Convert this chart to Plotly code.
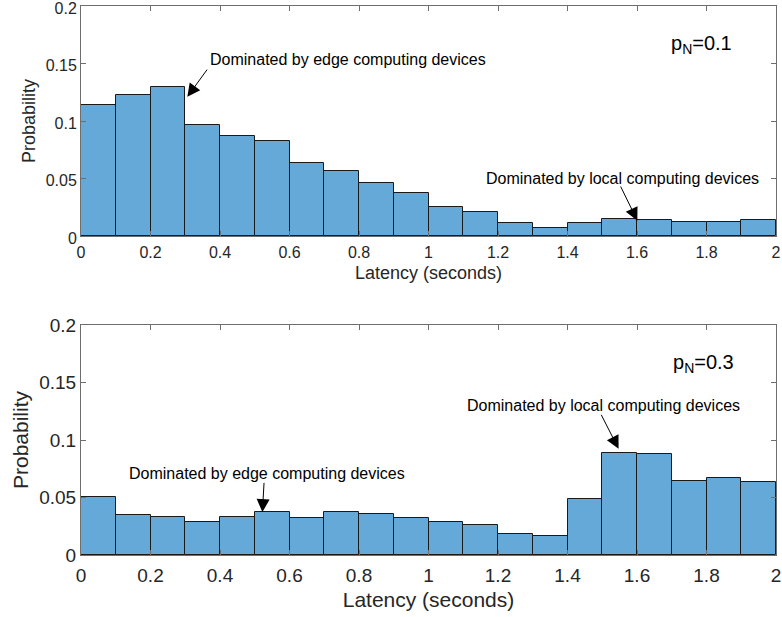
import plotly.graph_objects as go
from plotly.subplots import make_subplots

bin_edges = [round(i * 0.1, 1) for i in range(21)]
bin_centers = [round(i * 0.1 + 0.05, 2) for i in range(20)]
bin_width = 0.1

prob_pn01 = [0.1142, 0.1223, 0.1296, 0.0965, 0.0867, 0.0826, 0.0632, 0.0565, 0.0461, 0.0371,
             0.0255, 0.0212, 0.0110, 0.0067, 0.0110, 0.0150, 0.0136, 0.0119, 0.0119, 0.0136]
prob_pn03 = [0.0504, 0.0347, 0.0333, 0.0283, 0.0327, 0.0373, 0.0318, 0.0373, 0.0356, 0.0318,
             0.0287, 0.0263, 0.0182, 0.0162, 0.0489, 0.0891, 0.0877, 0.0645, 0.0669, 0.0631]

x_ticks = [0, 0.2, 0.4, 0.6, 0.8, 1, 1.2, 1.4, 1.6, 1.8, 2]
x_tick_labels = ["0", "0.2", "0.4", "0.6", "0.8", "1", "1.2", "1.4", "1.6", "1.8", "2"]
y_ticks = [0, 0.05, 0.1, 0.15, 0.2]
y_tick_labels = ["0", "0.05", "0.1", "0.15", "0.2"]

panel_labels = ["p<sub>N</sub>=0.1", "p<sub>N</sub>=0.3"]
ann_edge = "Dominated by edge computing devices"
ann_local = "Dominated by local computing devices"

W, H = 782, 617
mt, mb, ml, mr = 6, 62, 81, 6
ph = H - mt - mb
top_dom = [(ph - 230) / ph, 1.0]
bot_dom = [0.0, 230 / ph]

BAR = "#64a9d8"
TXT = "#262626"
AX = "#6e6e6e"
FONT = "Liberation Sans, Arial, Helvetica, sans-serif"

fig = make_subplots(rows=2, cols=1)
for row, vals in [(1, prob_pn01), (2, prob_pn03)]:
    fig.add_trace(go.Bar(x=bin_centers, y=vals, width=bin_width,
                         marker=dict(color=BAR, line=dict(color="#1a1a1a", width=1)),
                         showlegend=False), row=row, col=1)

common_x = dict(range=[0, 2], tickvals=x_ticks, ticktext=x_tick_labels, ticks="inside",
                ticklen=5, tickcolor=AX, showline=True, linecolor=AX, linewidth=1,
                mirror="ticks", showgrid=False, zeroline=False, automargin=False,
                ticklabeloverflow="allow")
common_y = dict(range=[0, 0.2], tickvals=y_ticks, ticktext=y_tick_labels, ticks="inside",
                ticklen=5, tickcolor=AX, showline=True, linecolor=AX, linewidth=1,
                mirror="ticks", showgrid=False, zeroline=False, automargin=False,
                ticklabeloverflow="allow")

fig.update_layout(
    width=W, height=H, margin=dict(l=ml, r=mr, t=mt, b=mb, autoexpand=False),
    paper_bgcolor="white", plot_bgcolor="white", bargap=0,
    font=dict(family=FONT, color=TXT),
    xaxis=dict(domain=[0, 1], anchor="y", **common_x, ticklabelstandoff=2,
               tickfont=dict(size=16, color=TXT),
               title=dict(text="Latency (seconds)", font=dict(size=18, color=TXT), standoff=6)),
    yaxis=dict(domain=top_dom, anchor="x", **common_y, ticklabelshift=2,
               tickfont=dict(size=16, color=TXT),
               title=dict(text="Probability", font=dict(size=18, color=TXT), standoff=5)),
    xaxis2=dict(domain=[0, 1], anchor="y2", **common_x, ticklabelstandoff=3,
                tickfont=dict(size=19, color=TXT),
                title=dict(text="Latency (seconds)", font=dict(size=21, color=TXT), standoff=7)),
    yaxis2=dict(domain=bot_dom, anchor="x2", **common_y,
                tickfont=dict(size=19, color=TXT),
                title=dict(text="Probability", font=dict(size=21, color=TXT), standoff=4)),
)

def text_ann(xref, yref, x, y, text, size, xanchor="left"):
    fig.add_annotation(xref=xref, yref=yref, x=x, y=y, text=text, showarrow=False,
                       xanchor=xanchor, yanchor="middle", font=dict(size=size, color="black", family=FONT))

def arrow_ann(xref, yref, x, y, ax, ay):
    fig.add_annotation(xref=xref, yref=yref, axref=xref, ayref=yref, x=x, y=y, ax=ax, ay=ay,
                       text="", showarrow=True, arrowhead=2, arrowsize=2.6, arrowwidth=1,
                       arrowcolor="black")

# top panel
text_ann("x", "y", 0.366, 0.1539, ann_edge, 16)
arrow_ann("x", "y", 0.306, 0.121, 0.366, 0.146)
text_ann("x", "y", 1.160, 0.0504, ann_local, 16)
arrow_ann("x", "y", 1.601, 0.0133, 1.551, 0.0443)
text_ann("x", "y", 1.692, 0.1668, panel_labels[0], 20)

# bottom panel
text_ann("x2", "y2", 0.133, 0.0710, ann_edge, 16)
arrow_ann("x2", "y2", 0.522, 0.0373, 0.527, 0.0640)
text_ann("x2", "y2", 1.105, 0.1303, ann_local, 16)
arrow_ann("x2", "y2", 1.547, 0.0923, 1.495, 0.1232)
text_ann("x2", "y2", 1.697, 0.1663, panel_labels[1], 20)

fig.write_html("out.html", config={"displayModeBar": False},
               post_script="document.body.style.margin='0';document.body.style.overflow='hidden';")
